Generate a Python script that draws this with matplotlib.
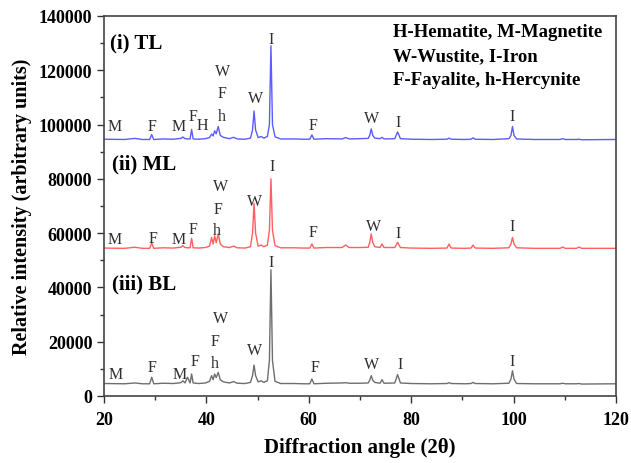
import matplotlib
matplotlib.use("Agg")
import matplotlib.pyplot as plt
from matplotlib.ticker import MultipleLocator

plt.rcParams['font.family'] = ['Liberation Serif', 'DejaVu Serif']

# ---- shared 2-theta points ----
two_theta = [
    20, 24.0, 26.0, 27.5, 28.9, 29.3, 29.7, 31.5,
    33.5, 35.0, 35.4, 35.8, 36.3, 36.8, 37.1, 37.4, 38.5,
    39.8, 40.6, 41.0, 41.3, 41.6, 41.9, 42.3, 42.7, 43.3, 44.5, 45.3, 46.0,
    47.5, 48.6, 49.0, 49.3, 49.6, 50.1, 50.7, 51.2, 51.9, 52.3, 52.6, 52.9, 53.4, 54.5,
    57.0, 59.0, 60.2, 60.6, 61.0, 63.5, 66.5, 67.2, 67.9, 70.0,
    71.6, 71.9, 72.2, 72.5, 72.9, 73.9, 74.3, 74.7, 76.8, 77.35, 77.9, 80.0,
    84.0, 87.0, 87.4, 87.8, 90.5, 91.7, 92.1, 92.5, 96.0, 99.1, 99.5, 99.8, 100.1,
    100.6, 104.0, 109.1, 109.6, 110.1, 112.3, 112.8, 113.3, 120.0,
]

tl_intensity = [
    94600, 94500, 94900, 94500, 94500, 96300, 94500, 94700,
    94600, 94900, 95400, 94800, 94700, 94700, 98200, 94700, 94600,
    94800, 95200, 96500, 95800, 97700, 96600, 99300, 96000, 95300, 94800, 95300, 94700,
    94600, 95000, 98000, 105000, 98000, 95200, 95600, 95000, 95600, 100000, 129000, 100000, 95500, 94700,
    94700, 94600, 94600, 96200, 94600, 94800, 94700, 95200, 94700, 94800,
    94900, 96000, 98400, 96000, 95000, 94800, 95300, 94700, 94800, 97300, 94800, 94600,
    94500, 94600, 95000, 94600, 94500, 94600, 95100, 94600, 94500, 94800, 96000, 99300, 96000,
    94700, 94500, 94500, 94800, 94500, 94500, 94600, 94400, 94500,
]

ml_intensity = [
    54500, 54400, 54800, 54400, 54400, 56400, 54400, 54600,
    54500, 54800, 55400, 54700, 54600, 54600, 58100, 54600, 54500,
    54700, 55200, 58400, 56000, 59000, 56500, 59700, 56000, 55000, 54700, 55200, 54600,
    54500, 55000, 60000, 71000, 60000, 55200, 55600, 55000, 55600, 61000, 80000, 61000, 55400, 54600,
    54600, 54500, 54500, 56000, 54500, 54700, 54700, 55600, 54700, 54700,
    54800, 56500, 59700, 56500, 55000, 54700, 56000, 54700, 54700, 56600, 54700, 54500,
    54400, 54500, 56000, 54500, 54400, 54500, 55600, 54500, 54400, 54600, 56000, 58400, 56000,
    54600, 54400, 54400, 54900, 54400, 54400, 54900, 54400, 54400,
]

bl_intensity = [
    4600, 4500, 4800, 4500, 4500, 6900, 4500, 4700,
    4600, 4900, 5600, 4800, 6900, 4800, 8100, 4800, 4600,
    4800, 5400, 7500, 6000, 8100, 6800, 8700, 6000, 5200, 4800, 5300, 4700,
    4600, 5000, 7500, 11400, 7500, 5200, 5600, 5000, 5600, 13000, 46500, 13000, 5400, 4600,
    4600, 4500, 4500, 6300, 4500, 4700, 4800, 4900, 4700, 4700,
    4800, 5800, 7500, 5800, 5000, 4700, 6000, 4700, 4800, 7900, 4800, 4600,
    4500, 4600, 4900, 4600, 4500, 4600, 5000, 4600, 4500, 4700, 6200, 9300, 6200,
    4600, 4500, 4500, 4700, 4500, 4500, 4600, 4400, 4500,
]

# ---- phase labels ----
tl_lab_text = ['M', 'F', 'M', 'F', 'H', 'W', 'F', 'h', 'W', 'I', 'F', 'W', 'I', 'I']
tl_lab_x = [22.0, 29.3, 34.5, 37.3, 39.3, 43.2, 43.0, 43.0, 49.5, 52.6, 60.8, 72.3, 77.5, 99.8]
tl_lab_y = [99600, 99600, 99600, 103000, 99800, 119900, 111500, 103300, 109700, 131500, 99800, 102500, 100800, 103200]

ml_lab_text = ['M', 'F', 'M', 'F', 'W', 'F', 'h', 'W', 'I', 'F', 'W', 'I', 'I']
ml_lab_x = [22.0, 29.5, 34.5, 37.4, 42.8, 42.3, 42.1, 49.4, 52.9, 60.8, 72.7, 77.5, 99.8]
ml_lab_y = [57800, 58300, 57800, 61500, 77200, 68900, 61000, 72000, 84800, 60300, 62700, 60100, 62700]

bl_lab_text = ['M', 'F', 'M', 'F', 'W', 'F', 'h', 'W', 'I', 'F', 'W', 'I', 'I']
bl_lab_x = [22.3, 29.3, 34.8, 37.8, 42.8, 41.7, 41.7, 49.3, 52.7, 61.2, 72.2, 77.8, 99.8]
bl_lab_y = [8200, 10600, 8200, 13000, 28600, 20200, 12000, 17000, 49200, 10600, 11800, 11800, 13000]

series_names = ['(i) TL', '(ii) ML', '(iii) BL']
series_name_x = [21.2, 21.5, 21.5]
series_name_y = [130300, 85500, 41500]
series_colors = ['#5b5bff', '#ff5f5f', '#6e6e6e']

legend_lines = ['H-Hematite, M-Magnetite', 'W-Wustite, I-Iron', 'F-Fayalite, h-Hercynite']

x_ticks = [20, 40, 60, 80, 100, 120]
y_ticks = [0, 20000, 40000, 60000, 80000, 100000, 120000, 140000]

fig = plt.figure(figsize=(6.31, 4.64), dpi=100)
ax = fig.add_axes([0.165, 0.1444, 0.811, 0.819])

all_y = [tl_intensity, ml_intensity, bl_intensity]
all_lab = [(tl_lab_text, tl_lab_x, tl_lab_y), (ml_lab_text, ml_lab_x, ml_lab_y),
           (bl_lab_text, bl_lab_x, bl_lab_y)]
for yv, col, (lt, lx, ly), nm, nx, ny in zip(all_y, series_colors, all_lab,
                                            series_names, series_name_x, series_name_y):
    ax.plot(two_theta, yv, color=col, lw=1.0)
    for t, xx, yy in zip(lt, lx, ly):
        ax.text(xx, yy, t, ha='center', va='center', fontsize=11.5, color='#2e2e2e')
    ax.text(nx, ny, nm, ha='left', va='center', fontsize=15, fontweight='bold', color='black')

for i, line in enumerate(legend_lines):
    ax.text(0.564, 0.958 - i * 0.062, line, transform=ax.transAxes, ha='left', va='center',
            fontsize=13.5, fontweight='bold')

ax.set_xlim(20, 120)
ax.set_ylim(0, 140000)
ax.set_xticks(x_ticks)
ax.set_yticks(y_ticks)
ax.xaxis.set_minor_locator(MultipleLocator(10))
ax.yaxis.set_minor_locator(MultipleLocator(10000))
ax.tick_params(which='both', direction='out', top=False, right=False, width=1.0, color='#333333')
ax.tick_params(which='major', length=5, labelsize=13)
ax.tick_params(axis='x', which='major', pad=6)
ax.tick_params(which='minor', length=3)
for lab in ax.get_xticklabels() + ax.get_yticklabels():
    lab.set_fontweight('bold')
for sp in ax.spines.values():
    sp.set_color('#444444')
    sp.set_linewidth(1.2)

ax.set_xlabel('Diffraction angle (2θ)', fontsize=15, fontweight='bold', labelpad=6)
ax.set_ylabel('Relative intensity (arbitrary units)', fontsize=14.5, fontweight='bold', labelpad=5)

fig.savefig('out.png', dpi=100)
